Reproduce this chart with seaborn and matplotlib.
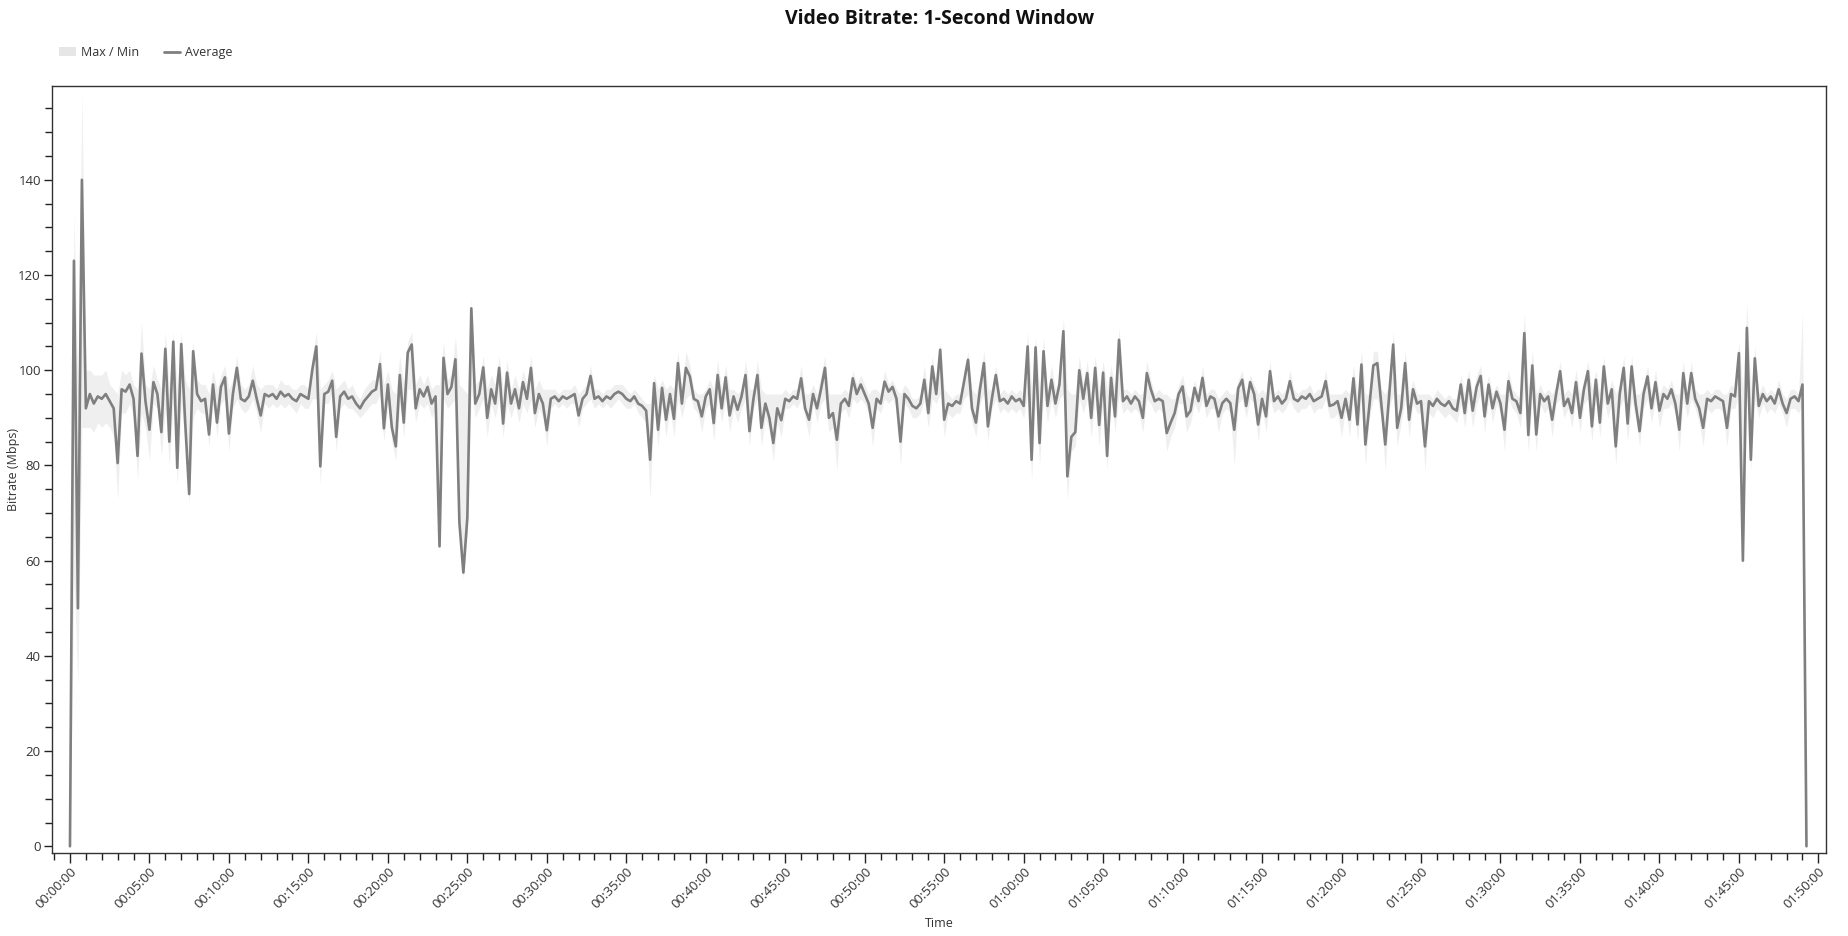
import numpy as np
import pandas as pd
import matplotlib
matplotlib.use("Agg")
import matplotlib.pyplot as plt
import matplotlib.ticker as mticker
from matplotlib.patches import Patch
from matplotlib.lines import Line2D
import seaborn as sns

# --- values (Mbps, one sample every 15 s, one row = 5 min) ---
STEP_S = 15

avg_mbps = [
    0, 123, 50, 140, 92, 95, 93, 94.5, 94, 95, 93.5, 92, 80.5, 96, 95.5, 97, 94, 82, 103.5, 93.5,
    87.5, 97.5, 95, 87, 104.5, 85, 106, 79.5, 105.5, 89, 74, 104, 95, 93.5, 94, 86.5, 97, 89, 96.5, 98.5,
    86.7, 95, 100.5, 94, 93.5, 94.5, 97.8, 94, 90.5, 95, 94.5, 95, 94, 95.5, 94.5, 95, 94, 93.5, 95, 94.5,
    94, 100.2, 105, 79.8, 95, 95.5, 97.8, 86, 94.5, 95.5, 94, 94.5, 93, 92, 93.5, 94.5, 95.5, 96, 101.3, 87.8,
    97, 88, 84, 99, 89, 103.7, 105.4, 92, 96, 94.5, 96.5, 93, 94.5, 63, 102.6, 95, 96.5, 102.3, 68, 57.5,
    69, 113, 93, 95, 100.6, 90, 96, 93, 100.5, 88.8, 99.5, 93, 96, 92, 97.5, 94, 100.5, 91, 95, 93,
    87.4, 94, 94.5, 93.5, 94.5, 94, 94.5, 95, 90.5, 94, 95, 98.8, 94, 94.5, 93.5, 94.5, 94, 95, 95.5, 95,
    94, 93.5, 94.5, 93, 92.5, 91.5, 81.2, 97.3, 87.5, 96.3, 89.6, 95, 89.8, 101.5, 93, 100.5, 98.7, 94, 93.5, 90.3,
    94.5, 96, 88.9, 99, 92, 98.5, 90.5, 94.5, 91.7, 94.5, 99, 87.2, 94, 99, 87.9, 93, 90, 84.7, 92, 89.5,
    94, 93.5, 94.5, 94, 98.3, 92, 89.6, 95, 92, 96, 100.5, 90, 91, 85.4, 93, 94, 92.5, 98.3, 95, 97,
    95, 93, 87.9, 94, 93, 97.6, 95.5, 96.5, 94, 85, 95, 94, 92.5, 92, 93, 98, 91, 100.8, 95, 104.3,
    89.6, 93, 92.5, 93.5, 93, 97.6, 102.2, 92, 89, 96, 101.5, 88.2, 94, 99, 93.5, 94, 93, 94.5, 93.5, 94,
    92.5, 105, 81.2, 104.8, 84.7, 104, 92.5, 98, 93, 97, 108.2, 77.7, 86, 87, 100, 94, 99.4, 90, 100.5, 88.5,
    99.5, 82, 98.4, 90.3, 106.4, 93.5, 94.5, 93, 94.5, 93.5, 90, 99.4, 96, 93.5, 94, 93.5, 86.8, 89, 91, 95,
    96.6, 90.3, 91.5, 96.3, 93.5, 98.4, 92.5, 94.5, 94, 90.3, 93.1, 94, 93.1, 87.5, 96.2, 98, 92.5, 97.5, 95, 88.6,
    94, 90.3, 99.8, 93.5, 94.5, 93, 94, 97.7, 94, 93.5, 94.5, 94, 95, 93.5, 94, 94.5, 97.7, 92.5, 92.8, 93.5,
    90, 94, 89.6, 98.3, 88.6, 101.2, 84.4, 92.5, 101, 101.5, 93, 84.4, 95, 105.4, 87.9, 92, 101.5, 89.6, 96, 93,
    93.5, 84, 93.5, 92.5, 94, 93, 92.5, 93.5, 92, 91.5, 97, 91, 98, 91.5, 96.5, 98.8, 90.3, 97, 92, 95.5,
    93, 87.5, 97.7, 94, 93.5, 91, 107.8, 86.4, 101, 86.5, 95, 93.5, 94.5, 89.6, 95, 99.8, 92.5, 94, 91, 97.5,
    90, 96, 99.8, 88.2, 98, 89, 100.8, 93, 96, 84, 95, 100.5, 88.8, 100.8, 93, 87.2, 95, 98.7, 92, 97.5,
    91.5, 95, 94, 96, 93, 87.5, 99.4, 93, 99.4, 94, 92, 87.9, 94, 93.5, 94.5, 94, 93.5, 87.9, 95, 94.5,
    103.6, 60, 108.9, 81.2, 102.5, 92.5, 95, 93.5, 94.5, 93, 96, 93, 91, 94, 94.5, 93.5, 97, 0,
]

max_mbps = [
    2, 133, 96, 158, 100, 100, 99, 99, 99, 100, 97, 96, 95, 100, 99, 100, 97, 96, 110, 97,
    96, 101, 98, 96, 108, 96, 108, 96, 108, 98, 96, 106, 98, 97, 97, 95, 100, 96, 99, 101,
    96, 98, 103, 97, 96, 97, 101, 97, 96, 97, 97, 97, 96, 98, 97, 97, 96, 96, 97, 97,
    96, 103, 108, 96, 97, 98, 100, 96, 97, 98, 96, 97, 95, 94, 96, 97, 98, 98, 104, 97,
    100, 96, 95, 103, 97, 106, 108, 97, 99, 97, 99, 96, 97, 97, 106, 98, 99, 107, 97, 96,
    95, 115, 97, 98, 103, 96, 99, 97, 103, 96, 102, 96, 99, 96, 100, 97, 103, 96, 98, 96,
    96, 96, 96, 95, 96, 96, 96, 97, 95, 96, 97, 101, 96, 96, 95, 96, 96, 97, 97, 97,
    96, 95, 96, 95, 94, 93, 93, 99, 96, 98, 96, 97, 96, 104, 96, 104, 101, 96, 95, 95,
    96, 98, 96, 102, 96, 101, 96, 96, 95, 96, 102, 96, 96, 102, 96, 95, 95, 95, 95, 95,
    96, 95, 96, 96, 101, 95, 95, 97, 95, 99, 103, 95, 95, 95, 95, 96, 95, 100, 97, 99,
    97, 95, 96, 96, 95, 100, 97, 98, 96, 95, 97, 96, 94, 94, 95, 101, 95, 103, 97, 106,
    96, 95, 94, 95, 95, 100, 104, 96, 95, 98, 104, 96, 96, 101, 95, 96, 95, 96, 95, 96,
    95, 108, 96, 107, 96, 107, 96, 101, 96, 99, 111, 96, 95, 95, 103, 97, 102, 95, 103, 96,
    102, 96, 101, 96, 109, 96, 96, 95, 96, 95, 95, 102, 98, 95, 96, 95, 95, 94, 94, 97,
    99, 95, 94, 98, 95, 101, 95, 96, 96, 94, 95, 96, 95, 95, 98, 100, 95, 99, 97, 95,
    96, 95, 102, 95, 96, 95, 96, 100, 96, 95, 96, 96, 97, 95, 96, 96, 100, 95, 95, 95,
    95, 96, 95, 101, 95, 104, 95, 95, 104, 104, 96, 95, 97, 108, 95, 95, 104, 95, 98, 95,
    95, 95, 95, 94, 96, 95, 94, 95, 94, 94, 99, 95, 100, 95, 99, 101, 95, 99, 95, 97,
    95, 95, 100, 96, 95, 94, 112, 96, 104, 95, 97, 95, 96, 95, 97, 102, 95, 96, 95, 100,
    95, 98, 102, 96, 100, 95, 103, 95, 98, 95, 97, 103, 95, 103, 95, 95, 97, 101, 95, 100,
    95, 97, 96, 98, 95, 95, 102, 95, 102, 96, 95, 95, 96, 95, 96, 96, 95, 95, 97, 96,
    106, 96, 114, 96, 105, 95, 97, 95, 96, 95, 98, 95, 94, 96, 96, 95, 112, 5,
]

min_mbps = [
    0, 57, 34, 88, 88, 88, 87, 89, 88, 89, 88, 86, 73, 91, 91, 93, 90, 77, 91, 88,
    81, 93, 92, 82, 92, 80, 93, 76, 93, 85, 72, 90, 92, 91, 91, 84, 93, 86, 93, 94,
    83, 92, 94, 92, 91, 92, 94, 91, 87, 93, 92, 93, 92, 93, 92, 93, 92, 91, 93, 92,
    92, 94, 94, 76, 93, 93, 95, 83, 92, 93, 92, 92, 91, 90, 91, 92, 93, 93, 95, 85,
    93, 85, 81, 93, 86, 96, 96, 89, 93, 92, 93, 90, 92, 62, 94, 92, 93, 94, 65, 56,
    66, 96, 90, 92, 94, 86, 93, 90, 94, 86, 93, 90, 93, 89, 93, 91, 94, 88, 92, 90,
    84, 92, 93, 92, 93, 92, 93, 93, 88, 92, 93, 94, 92, 93, 92, 93, 92, 93, 94, 93,
    92, 92, 93, 91, 90, 89, 73, 93, 84, 93, 86, 92, 86, 94, 90, 94, 95, 92, 91, 87,
    92, 93, 85, 94, 89, 94, 87, 92, 89, 92, 94, 84, 92, 94, 84, 90, 87, 81, 89, 86,
    92, 92, 93, 92, 94, 90, 86, 93, 89, 93, 94, 87, 88, 79, 91, 92, 90, 94, 93, 94,
    93, 91, 84, 92, 91, 94, 93, 94, 92, 80, 93, 92, 90, 90, 91, 94, 88, 94, 93, 95,
    86, 91, 90, 91, 91, 94, 95, 89, 86, 93, 95, 85, 92, 94, 91, 92, 91, 92, 91, 92,
    90, 95, 77, 95, 80, 95, 89, 94, 90, 94, 95, 73, 83, 84, 94, 91, 94, 86, 94, 84,
    94, 79, 94, 87, 95, 91, 92, 91, 92, 91, 87, 94, 93, 91, 92, 91, 83, 86, 88, 93,
    93, 87, 89, 93, 91, 94, 90, 92, 92, 87, 91, 92, 91, 80, 93, 94, 90, 94, 93, 85,
    92, 87, 94, 91, 92, 91, 92, 94, 92, 91, 92, 92, 93, 91, 92, 92, 94, 90, 90, 91,
    86, 92, 86, 94, 85, 94, 80, 90, 94, 94, 90, 79, 92, 95, 84, 89, 94, 86, 93, 91,
    91, 79, 91, 90, 92, 91, 90, 91, 90, 89, 93, 88, 94, 88, 93, 95, 87, 94, 89, 93,
    91, 83, 94, 92, 91, 88, 96, 83, 94, 83, 93, 91, 92, 86, 93, 94, 90, 92, 88, 94,
    87, 93, 94, 85, 94, 86, 94, 90, 93, 80, 92, 94, 85, 94, 90, 84, 92, 94, 89, 94,
    88, 92, 92, 93, 91, 83, 94, 90, 94, 92, 89, 84, 92, 91, 92, 92, 91, 84, 92, 92,
    95, 58, 96, 79, 94, 90, 93, 91, 92, 91, 93, 91, 88, 92, 92, 91, 93, 0,
]

df = pd.DataFrame({
    "seconds": np.arange(len(avg_mbps)) * STEP_S,
    "avg": avg_mbps,
    "max": max_mbps,
    "min": min_mbps,
})

LINE_GREY = "#7f7f7f"
BAND_GREY = "#efefef"
TEXT = "#333333"


def hms(sec, _pos=None):
    sec = int(round(sec))
    return f"{sec // 3600:02d}:{(sec % 3600) // 60:02d}:{sec % 60:02d}"


sns.set_style("ticks")
plt.rcParams["font.family"] = ["Open Sans", "DejaVu Sans"]

fig = plt.figure(figsize=(18.49, 9.36), dpi=100)
ax = fig.add_axes([0.0281, 0.0887, 0.9595, 0.8194])

ax.fill_between(df["seconds"], df["min"], df["max"], color=BAND_GREY, linewidth=0)
sns.lineplot(data=df, x="seconds", y="avg", ax=ax, color=LINE_GREY,
             linewidth=1.9, estimator=None, sort=False)

ax.set_xlim(-68, 6629)
ax.set_ylim(-1.4, 159.7)

ax.xaxis.set_major_locator(mticker.MultipleLocator(300))
ax.xaxis.set_minor_locator(mticker.MultipleLocator(60))
ax.xaxis.set_major_formatter(mticker.FuncFormatter(hms))
ax.yaxis.set_major_locator(mticker.MultipleLocator(20))
ax.yaxis.set_minor_locator(mticker.MultipleLocator(5))

ax.tick_params(axis="both", which="major", length=6, width=1, color="#222222",
               labelsize=9.5, labelcolor=TEXT, pad=2)
ax.tick_params(axis="both", which="minor", length=5, width=1, color="#222222")
ax.tick_params(axis="x", which="major", length=7)
for lbl in ax.get_xticklabels():
    lbl.set_rotation(45)
    lbl.set_ha("right")
    lbl.set_rotation_mode("anchor")

for sp in ax.spines.values():
    sp.set_visible(True)
    sp.set_color(TEXT)
    sp.set_linewidth(1)

ax.set_xlabel("Time", fontsize=9, color=TEXT, labelpad=4)
ax.set_ylabel("Bitrate (Mbps)", fontsize=9, color=TEXT, labelpad=-1)
ax.grid(False)

fig.suptitle("Video Bitrate: 1-Second Window", x=0.508, y=0.99,
             fontsize=14, fontweight="bold", color="#111111")

handles = [
    Patch(facecolor="#e6e6e6", edgecolor="none"),
    Line2D([0], [0], color=LINE_GREY, linewidth=2),
]
fig.legend(handles, ["Max / Min", "Average"], loc="upper left",
           bbox_to_anchor=(0.026, 0.963), ncol=2, frameon=False,
           fontsize=9, handlelength=1.3, handletextpad=0.4, columnspacing=2.0,
           labelcolor=TEXT)

fig.savefig("out.png", dpi=100)
